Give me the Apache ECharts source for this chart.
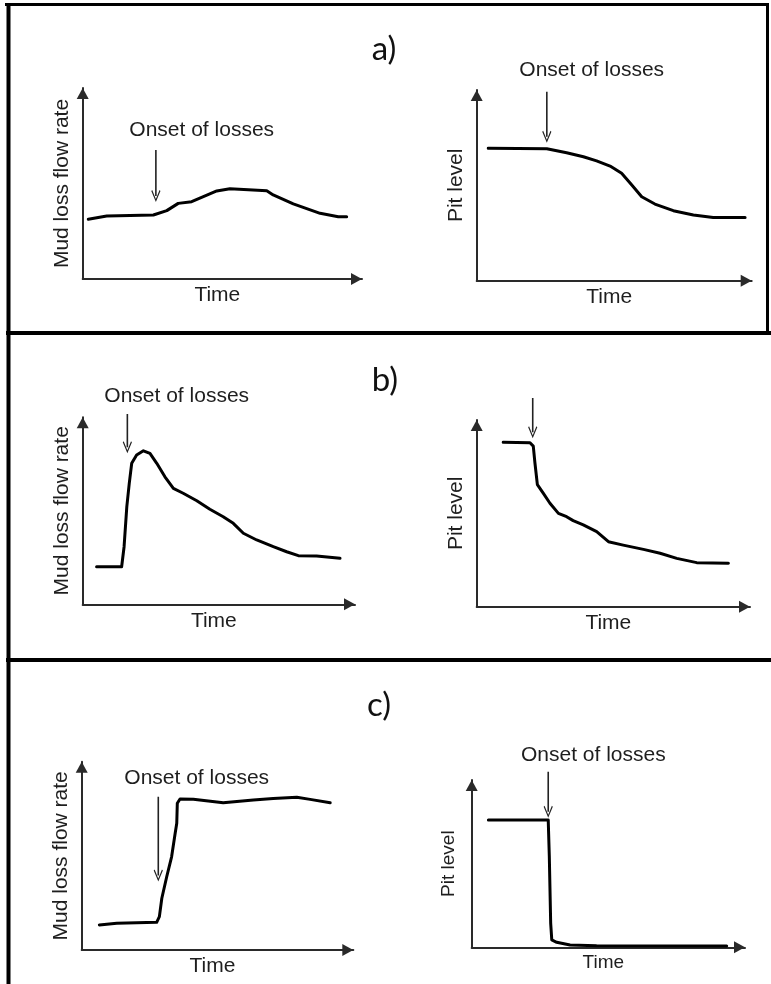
<!DOCTYPE html>
<html><head><meta charset="utf-8">
<script src="https://cdn.jsdelivr.net/npm/echarts@6/dist/echarts.min.js"></script>
<style>html,body{margin:0;padding:0;background:#fff}#c{width:771px;height:984px}</style>
</head><body><div id="c"></div>
<script>
// ---------- data (time and value on a 0–100 schematic scale) ----------
const panelLabels = ['a)', 'b)', 'c)'];
const flowTitle = 'Mud loss flow rate';
const pitTitle = 'Pit level';
const timeTitle = 'Time';
const onsetText = 'Onset of losses';

const aFlowTime = [2.0, 8.6, 25.3, 30.1, 34.2, 39.0, 43.2, 48.0, 52.7, 65.9, 68.2, 75.4, 85.0, 91.5, 94.5];
const aFlowRate = [31.3, 33.0, 33.5, 35.8, 39.6, 40.5, 43.1, 46.1, 47.3, 46.2, 44.0, 39.3, 34.4, 32.6, 32.6];

const aPitTime = [4.2, 25.5, 32.7, 38.8, 43.6, 48.5, 52.7, 56.4, 60.0, 64.8, 71.5, 78.8, 86.0, 97.6];
const aPitLevel = [69.4, 69.2, 67.1, 65.0, 62.8, 60.1, 56.3, 50.2, 44.0, 40.2, 36.7, 34.5, 33.2, 33.2];

const bFlowTime = [5.1, 14.3, 15.2, 16.2, 17.1, 18.0, 19.8, 22.3, 24.7, 27.2, 30.2, 33.3, 36.9, 41.9, 46.7, 51.6, 55.3, 59.0, 63.9, 70.0, 74.9, 79.2, 85.9, 94.5];
const bFlowRate = [20.1, 20.1, 30.8, 52.2, 64.7, 75.4, 79.8, 82.1, 80.7, 75.4, 68.2, 62.0, 59.4, 55.4, 50.8, 46.8, 43.3, 38.0, 34.4, 30.8, 28.1, 26.0, 25.8, 24.6];

const bPitTime = [9.7, 19.5, 20.7, 21.3, 22.2, 24.4, 26.8, 29.9, 32.9, 35.3, 39.0, 43.9, 48.2, 53.6, 61.0, 67.1, 73.2, 80.5, 92.1];
const bPitLevel = [88.1, 87.8, 86.0, 77.1, 65.4, 60.7, 55.4, 50.0, 48.2, 46.1, 43.8, 40.2, 34.8, 33.0, 30.7, 28.6, 25.9, 23.6, 23.3];

const cFlowTime = [6.5, 12.9, 27.6, 28.6, 29.5, 31.3, 33.1, 34.4, 35.0, 35.2, 36.2, 41.1, 52.1, 63.2, 70.5, 79.2, 84.1, 91.5];
const cFlowRate = [13.3, 14.2, 14.7, 17.7, 27.5, 38.9, 49.5, 61.9, 67.3, 77.9, 80.2, 80.0, 78.2, 79.7, 80.5, 81.1, 80.0, 78.2];

const cPitTime = [6.1, 28.0, 28.4, 28.9, 29.3, 31.1, 36.0, 45.7, 93.3];
const cPitLevel = [76.1, 76.1, 54.1, 14.3, 4.4, 3.0, 1.4, 1.0, 0.8];

// onset-of-losses arrows: time, value at arrow tail, value at arrow head
const onsetTime = [26.2, 25.5, 16.4, 20.5, 28.2, 28.0];
const onsetFrom = [67.5, 99.1, 101.7, 111.8, 81.4, 105.0];
const onsetTo = [43.5, 75.5, 84.0, 93.5, 39.5, 81.0];
const onsetHasText = [true, true, true, false, true, true];

// ---------- layout ----------
const seriesTime = [aFlowTime, aPitTime, bFlowTime, bPitTime, cFlowTime, cPitTime];
const seriesVal = [aFlowRate, aPitLevel, bFlowRate, bPitLevel, cFlowRate, cPitLevel];
const yTitles = [flowTitle, pitTitle, flowTitle, pitTitle, flowTitle, pitTitle];
const grids = [
  {left: 82.7, top: 88, width: 279.3, height: 191},
  {left: 476.7, top: 90, width: 275, height: 190.7},
  {left: 82.7, top: 417.3, width: 272.3, height: 187},
  {left: 476.7, top: 420, width: 273.3, height: 186.7},
  {left: 81.7, top: 761.7, width: 271.6, height: 188.3},
  {left: 471.7, top: 780, width: 273.3, height: 167.3}
];
const onsetTextPos = [[201.7, 130], [591.7, 70], [176.7, 396.7], null, [196.7, 778.3], [593.3, 755]];
const panelLabelPos = [[384, 49], [385, 380], [379, 705]];
const FONT = 'Arial, "Liberation Sans", Arimo, sans-serif';
const TXT = '#1e1e1e';

const axisLine = {
  show: true, onZero: false,
  lineStyle: {color: '#2a2a2a', width: 2},
  symbol: ['none', 'triangle'], symbolSize: [12, 11], symbolOffset: [0, -5.5]
};
const chevron = 'path://M5,0 L10,11 L9,12 L5,3 L1,12 L0,11 Z';

const curveSeries = seriesTime.map((t, i) => ({
  type: 'line', xAxisIndex: i, yAxisIndex: i,
  data: t.map((x, k) => [x, seriesVal[i][k]]),
  showSymbol: false, symbol: 'none',
  lineStyle: {color: '#000', width: 3, join: 'round', cap: 'round'},
  silent: true, z: 3
}));
const arrowSeries = onsetTime.map((x, i) => ({
  type: 'line', xAxisIndex: i, yAxisIndex: i, clip: false, silent: true, z: 4,
  symbolKeepAspect: true,
  data: [
    {value: [x, onsetFrom[i]], symbol: 'none'},
    {value: [x, onsetTo[i]], symbol: chevron, symbolSize: [11, 12], symbolRotate: 180,
     itemStyle: {color: '#222'}}
  ],
  showSymbol: true,
  lineStyle: {color: '#222', width: 1.6}
}));

const option = {
  backgroundColor: '#fff', animation: false,
  grid: grids.map(g => Object.assign({containLabel: false}, g)),
  xAxis: grids.map((g, i) => ({
    type: 'value', gridIndex: i, min: 0, max: 100,
    axisLine, axisTick: {show: false}, axisLabel: {show: false}, splitLine: {show: false},
    name: timeTitle, nameLocation: 'middle', nameGap: i === 5 ? 6 : 6,
    nameTextStyle: {fontFamily: FONT, fontSize: i === 5 ? 19 : 21, color: TXT, padding: [0, 10, 0, 0]}
  })),
  yAxis: grids.map((g, i) => ({
    type: 'value', gridIndex: i, min: 0, max: 100,
    axisLine, axisTick: {show: false}, axisLabel: {show: false}, splitLine: {show: false},
    name: yTitles[i], nameLocation: 'middle', nameRotate: 90, nameGap: i === 5 ? 13 : 10,
    nameTextStyle: {fontFamily: FONT, fontSize: i === 5 ? 19 : 21, color: TXT}
  })),
  series: curveSeries.concat(arrowSeries),
  graphic: [
    // panel frames
    {type: 'line', shape: {x1: 5, y1: 4.5, x2: 769, y2: 4.5}, style: {stroke: '#000', lineWidth: 3}},
    {type: 'line', shape: {x1: 8.5, y1: 3, x2: 8.5, y2: 984}, style: {stroke: '#000', lineWidth: 4}},
    {type: 'line', shape: {x1: 767.5, y1: 3, x2: 767.5, y2: 333}, style: {stroke: '#000', lineWidth: 3}},
    {type: 'line', shape: {x1: 6, y1: 333, x2: 771, y2: 333}, style: {stroke: '#000', lineWidth: 4}},
    {type: 'line', shape: {x1: 6, y1: 660, x2: 771, y2: 660}, style: {stroke: '#000', lineWidth: 4}}
  ].concat(panelLabels.map((t, i) => ({
    type: 'text', x: panelLabelPos[i][0], y: panelLabelPos[i][1],
    style: {text: t, font: '33px Lato, "Open Sans", sans-serif', fill: '#111', align: 'center', verticalAlign: 'middle'}
  }))).concat(onsetTextPos.filter((p, i) => p && onsetHasText[i]).map(p => ({
    type: 'text', x: p[0], y: p[1],
    style: {text: onsetText, font: '21px ' + FONT, fill: TXT, align: 'center', verticalAlign: 'middle'}
  })))
};

const chart = echarts.init(document.getElementById('c'), null, {renderer: 'canvas'});
chart.setOption(option);
</script>
</body></html>
